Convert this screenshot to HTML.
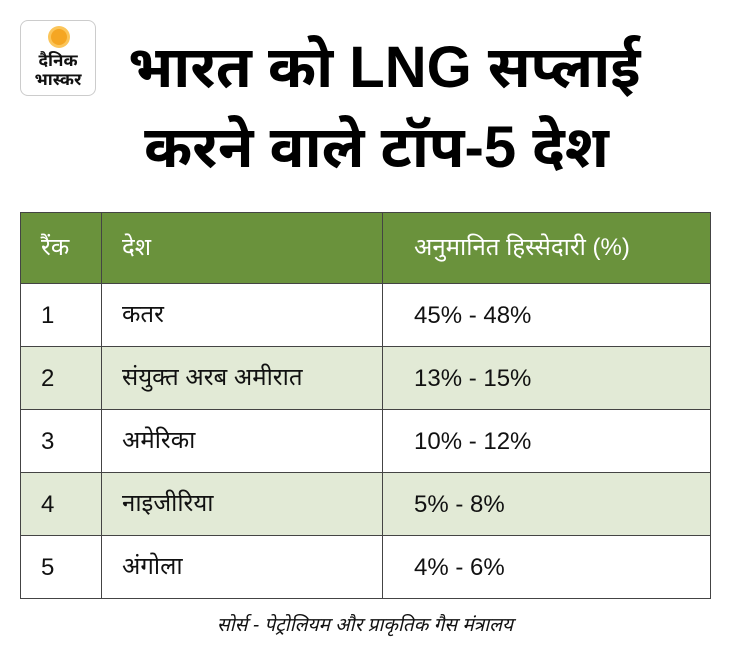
<!DOCTYPE html>
<html><head><meta charset="utf-8"><style>
body{margin:0;width:730px;height:664px;background:#fff;font-family:"Liberation Sans","Noto Sans Devanagari","Lohit Devanagari",sans-serif;position:relative;overflow:hidden}
.logo{position:absolute;left:20px;top:20px;width:76px;height:76px;border:1px solid #ccc;border-radius:8px;box-sizing:border-box;text-align:center}
.sun{position:absolute;left:30px;top:8px;width:16px;height:16px;border-radius:50%;background:#f5a623;box-shadow:0 0 0 3px #fbc55a}
.lt{position:absolute;left:0;right:0;top:30px;font-size:17px;font-weight:bold;line-height:19px;color:#111}
.title{position:absolute;left:128px;top:28px;font-size:58px;font-weight:bold;line-height:80px;color:#000;white-space:nowrap}
table{position:absolute;left:20px;top:212px;border-collapse:collapse;width:691px}
td{border:1.5px solid #444;font-size:24px;color:#111;padding:2px 0 0 20px;height:60px}
td.c3{padding-left:31px}
tr.h td{background:#6a923c;color:#fff;height:68px}
tr.g td{background:#e2ead6}
.src{position:absolute;left:0;right:0;top:614px;text-align:center;font-size:19px;font-style:italic;color:#111}
</style></head><body>
<div class="logo"><div class="sun"></div><div class="lt">दैनिक<br>भास्कर</div></div>
<div class="title">भारत को LNG सप्लाई<br>&nbsp;करने वाले टॉप-5 देश</div>
<table>
<tr class="h"><td style="width:60px">रैंक</td><td style="width:260px">देश</td><td class="c3">अनुमानित हिस्सेदारी (%)</td></tr>
<tr><td>1</td><td>कतर</td><td class="c3">45% - 48%</td></tr>
<tr class="g"><td>2</td><td>संयुक्त अरब अमीरात</td><td class="c3">13% - 15%</td></tr>
<tr><td>3</td><td>अमेरिका</td><td class="c3">10% - 12%</td></tr>
<tr class="g"><td>4</td><td>नाइजीरिया</td><td class="c3">5% - 8%</td></tr>
<tr><td>5</td><td>अंगोला</td><td class="c3">4% - 6%</td></tr>
</table>
<div class="src">सोर्स - पेट्रोलियम और प्राकृतिक गैस मंत्रालय</div>
</body></html>
